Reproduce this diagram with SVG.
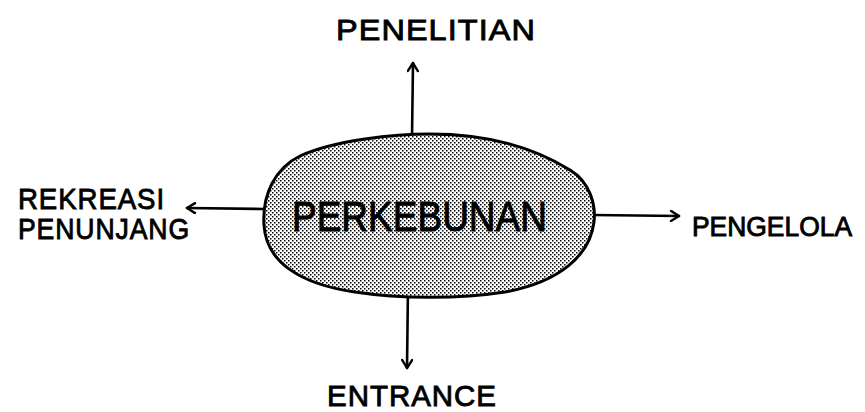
<svg xmlns="http://www.w3.org/2000/svg" width="865" height="412" viewBox="0 0 865 412">
<style>
text{font-family:"Liberation Sans",Arial,sans-serif;fill:#000;stroke:#000;stroke-width:0.9;letter-spacing:1px}
.lbl{font-size:30px}
.ar{fill:none;stroke:#000;stroke-width:2.6;stroke-linecap:round;stroke-linejoin:round}
</style>
<defs>
<pattern id="dots" width="4" height="4" patternUnits="userSpaceOnUse">
<rect width="4" height="4" fill="#fff"/>
<rect x="0" y="0" width="1.5" height="1.5" fill="#000"/>
<rect x="2" y="2" width="1.5" height="1.5" fill="#000"/>
</pattern>
<marker id="ah" viewBox="0 0 12 12" refX="10" refY="6" markerWidth="12" markerHeight="12" markerUnits="userSpaceOnUse" orient="auto">
<path d="M2,1 L10,6 L2,11" fill="none" stroke="#000" stroke-width="2.4" stroke-linecap="round" stroke-linejoin="round"/>
</marker>
</defs>
<g id="connectors">
<line class="ar" x1="412" y1="138" x2="413" y2="63" marker-end="url(#ah)"/>
<line class="ar" x1="263" y1="209" x2="187" y2="208" marker-end="url(#ah)"/>
<line class="ar" x1="593" y1="215" x2="679" y2="216" marker-end="url(#ah)"/>
<line class="ar" x1="408" y1="286" x2="407" y2="368" marker-end="url(#ah)"/>
</g>
<g id="perkebunan">
<path d="M300,156 C335,140 395,134 430,134 C480,134 530,145 570,170 C590,182 596,205 594,222 C590,255 560,282 505,292 C460,299 400,299 355,292 C300,284 266,262 264,225 C262,195 275,168 300,156 Z" fill="url(#dots)" stroke="#000" stroke-width="3"/>
<text x="292" y="231" font-size="43" textLength="255" lengthAdjust="spacingAndGlyphs" style="letter-spacing:0">PERKEBUNAN</text>
</g>
<g id="penelitian">
<text class="lbl" x="336" y="40" textLength="200" lengthAdjust="spacingAndGlyphs">PENELITIAN</text>
</g>
<g id="rekreasi">
<text class="lbl" x="18" y="209" textLength="147" lengthAdjust="spacingAndGlyphs">REKREASI</text>
<text class="lbl" x="18" y="239" textLength="172" lengthAdjust="spacingAndGlyphs">PENUNJANG</text>
</g>
<g id="pengelola">
<text x="692" y="236" font-size="27" textLength="160" lengthAdjust="spacingAndGlyphs" style="letter-spacing:0">PENGELOLA</text>
</g>
<g id="entrance">
<text class="lbl" x="327" y="406" textLength="170" lengthAdjust="spacingAndGlyphs">ENTRANCE</text>
</g>
</svg>
